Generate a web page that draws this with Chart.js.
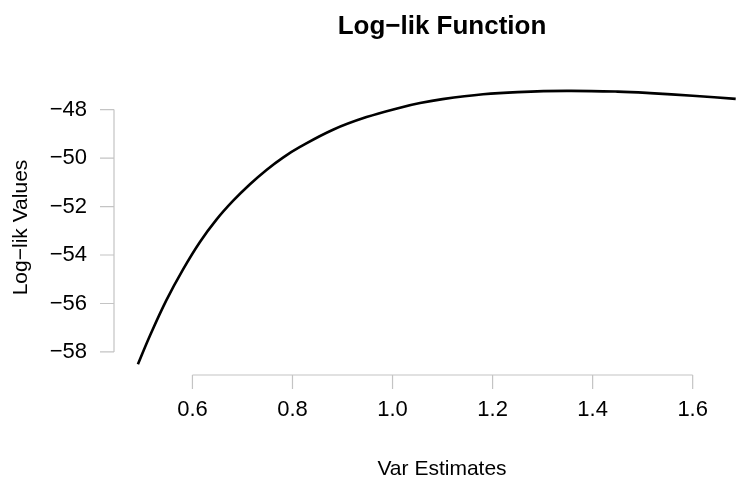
<!DOCTYPE html>
<html>
<head>
<meta charset="utf-8">
<script src="https://cdn.jsdelivr.net/npm/chart.js@4/dist/chart.umd.min.js"></script>
<style>
  html, body { margin: 0; padding: 0; background: #ffffff; }
  #wrap { width: 736px; height: 483px; position: relative; }
</style>
</head>
<body>
<div id="wrap"><canvas id="c"></canvas></div>
<script>
// Variance estimates and the log-likelihood evaluated at each
const varEstimates = [0.491, 0.515, 0.548, 0.581, 0.615, 0.648, 0.681, 0.715, 0.748, 0.781,
                      0.815, 0.881, 0.948, 1.015, 1.055, 1.100, 1.181, 1.250, 1.348, 1.450,
                      1.515, 1.600, 1.686];
const logLikValues = [-58.51, -57.33, -55.86, -54.60, -53.46, -52.54, -51.77, -51.08, -50.49, -49.98,
                      -49.54, -48.83, -48.31, -47.92, -47.73, -47.57, -47.37, -47.28, -47.23, -47.26,
                      -47.32, -47.43, -47.56];

// Axis ticks
const xTicks = [0.6, 0.8, 1.0, 1.2, 1.4, 1.6];
const xTickLabels = ["0.6", "0.8", "1.0", "1.2", "1.4", "1.6"];
const yTicks = [-58, -56, -54, -52, -50, -48];
const yTickLabels = ["\u221258", "\u221256", "\u221254", "\u221252", "\u221250", "\u221248"];

const titleText = "Log\u2212lik Function";
const xTitle = "Var Estimates";
const yTitle = "Log\u2212lik Values";

const FONT = "'Liberation Sans', Arial, Helvetica, sans-serif";
const AXIS_COLOR = "#c4c4c4";
const TICK_LEN = 14;

// Base-graphics style axes: lines span only the tick range, ticks point outward
const baseAxes = {
  id: 'baseAxes',
  afterDraw(chart) {
    const ctx = chart.ctx;
    const xs = chart.scales.x, ys = chart.scales.y;
    const area = chart.chartArea;
    ctx.save();
    ctx.strokeStyle = AXIS_COLOR;
    ctx.lineWidth = 1.2;

    // y axis
    const yTop = ys.getPixelForValue(yTicks[yTicks.length - 1]);
    const yBot = ys.getPixelForValue(yTicks[0]);
    ctx.beginPath();
    ctx.moveTo(area.left, yTop);
    ctx.lineTo(area.left, yBot);
    yTicks.forEach(v => {
      const p = ys.getPixelForValue(v);
      ctx.moveTo(area.left, p);
      ctx.lineTo(area.left - TICK_LEN, p);
    });
    ctx.stroke();

    // x axis
    const xL = xs.getPixelForValue(xTicks[0]);
    const xR = xs.getPixelForValue(xTicks[xTicks.length - 1]);
    ctx.beginPath();
    ctx.moveTo(xL, area.bottom);
    ctx.lineTo(xR, area.bottom);
    xTicks.forEach(v => {
      const p = xs.getPixelForValue(v);
      ctx.moveTo(p, area.bottom);
      ctx.lineTo(p, area.bottom + TICK_LEN);
    });
    ctx.stroke();

    // tick labels
    ctx.fillStyle = "#000000";
    ctx.font = "22px " + FONT;
    ctx.textAlign = "right";
    ctx.textBaseline = "middle";
    yTicks.forEach((v, i) => {
      ctx.fillText(yTickLabels[i], area.left - 27, ys.getPixelForValue(v));
    });
    ctx.textAlign = "center";
    xTicks.forEach((v, i) => {
      ctx.fillText(xTickLabels[i], xs.getPixelForValue(v), area.bottom + 35);
    });

    // axis titles
    ctx.font = "21px " + FONT;
    const plotMidX = 442;
    ctx.fillText(xTitle, plotMidX, area.bottom + 94);
    ctx.save();
    ctx.translate(21, (area.top + area.bottom) / 2);
    ctx.rotate(-Math.PI / 2);
    ctx.fillText(yTitle, 0, 0);
    ctx.restore();

    // main title
    ctx.font = "bold 26px " + FONT;
    ctx.textBaseline = "alphabetic";
    ctx.fillText(titleText, plotMidX, 34);
    ctx.restore();
  }
};

new Chart(document.getElementById('c'), {
  type: 'line',
  data: {
    datasets: [{
      data: varEstimates.map((x, i) => ({ x: x, y: logLikValues[i] })),
      borderColor: '#000000',
      borderWidth: 2.6,
      pointRadius: 0,
      fill: false,
      tension: 0.4
    }]
  },
  options: {
    responsive: true,
    maintainAspectRatio: false,
    animation: false,
    layout: { padding: { left: 114, top: 80, right: 0, bottom: 108 } },
    plugins: { legend: { display: false }, title: { display: false }, tooltip: { enabled: false } },
    scales: {
      x: { type: 'linear', min: 0.4432, max: 1.6866, display: false },
      y: { type: 'linear', min: -58.95, max: -46.78, display: false }
    }
  },
  plugins: [baseAxes]
});
</script>
</body>
</html>
